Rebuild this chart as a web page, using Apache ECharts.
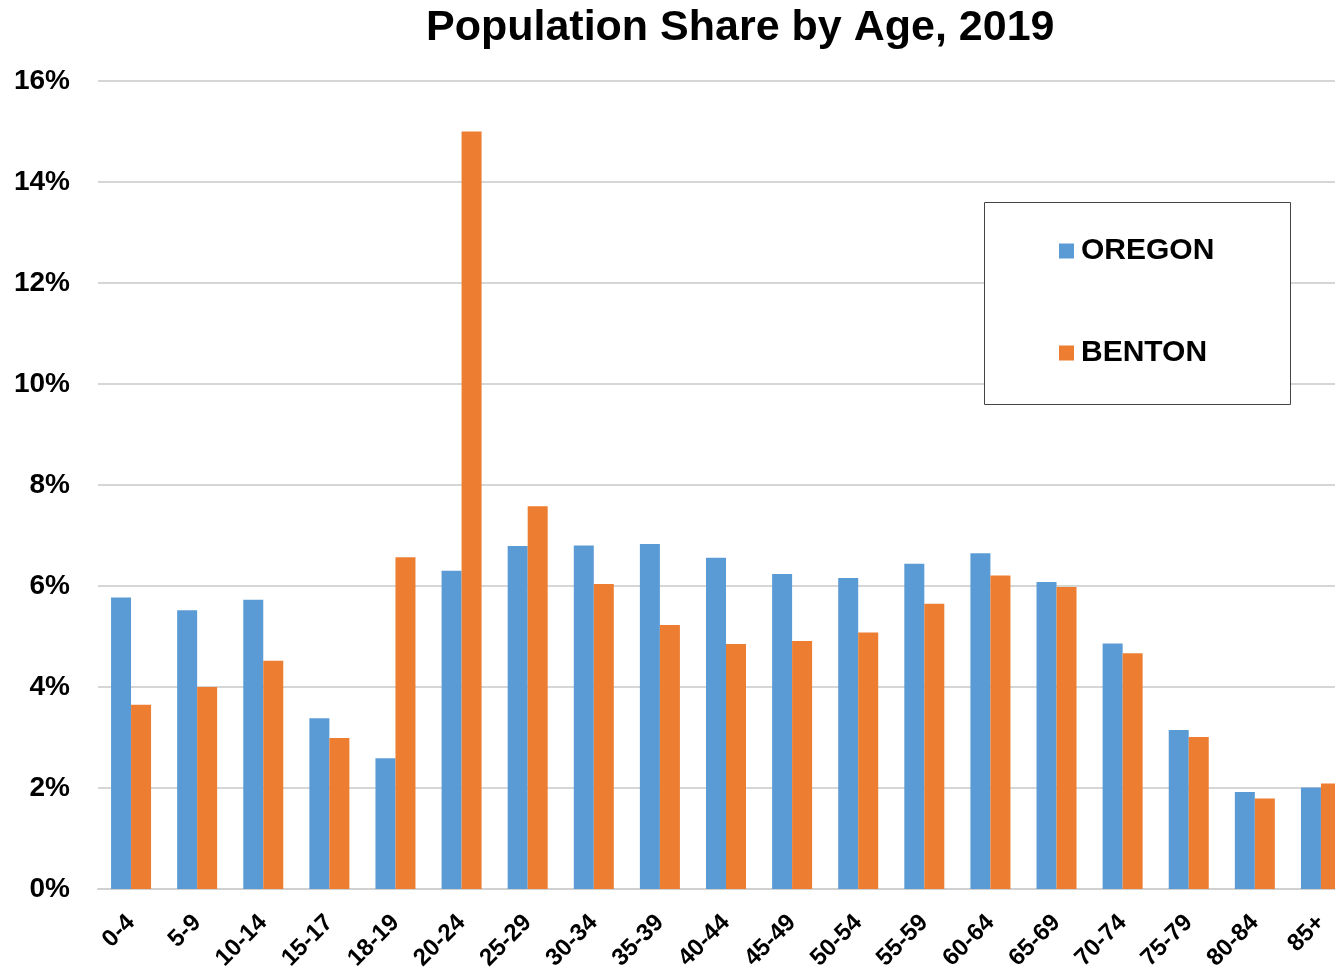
<!DOCTYPE html>
<html>
<head>
<meta charset="utf-8">
<script src="https://cdn.jsdelivr.net/npm/echarts@6/dist/echarts.min.js"></script>
<style>
  html, body { margin: 0; padding: 0; background: #fff; }
  #main { width: 1335px; height: 969px; }
</style>
</head>
<body>
<div id="main"></div>
<script type="text/javascript">
    // age groups and share (%) of population
    var ageGroups = ['0-4','5-9','10-14','15-17','18-19','20-24','25-29','30-34','35-39','40-44',
                     '45-49','50-54','55-59','60-64','65-69','70-74','75-79','80-84','85+'];
    var oregon = [5.77, 5.52, 5.73, 3.38, 2.59, 6.30, 6.79, 6.80, 6.83, 6.56,
                  6.24, 6.16, 6.44, 6.65, 6.08, 4.86, 3.15, 1.92, 2.01];
    var benton = [3.65, 4.00, 4.52, 2.99, 6.57, 15.00, 7.58, 6.04, 5.23, 4.85,
                  4.91, 5.08, 5.65, 6.21, 5.98, 4.67, 3.01, 1.79, 2.09];
    var seriesNames = ['OREGON', 'BENTON'];

    var font = 'Arial, "Liberation Sans", sans-serif';
    var myChart = echarts.init(document.getElementById('main'));

    var option = {
        backgroundColor: '#ffffff',
        animation: false,
        color: ['#5B9BD5', '#ED7D31'],
        title: {
            text: 'Population Share by Age, 2019',
            left: 421, top: 2,
            textStyle: { color: '#000', fontSize: 43, fontWeight: 'bold', fontFamily: font }
        },
        legend: {
            data: seriesNames,
            orient: 'vertical',
            left: 1054, top: 231,
            itemGap: 72,
            itemWidth: 15, itemHeight: 15,
            icon: 'rect',
            z: 10,
            textStyle: { color: '#000', fontSize: 30, fontWeight: 'bold', fontFamily: font, padding: [0, 0, 0, 2] }
        },
        graphic: [{
            type: 'rect',
            shape: { x: 984.5, y: 202.5, width: 306, height: 202 },
            style: { fill: '#fff', stroke: '#444', lineWidth: 1 },
            z: 5
        }],
        // plot runs slightly past the right edge, like the original picture
        grid: { left: 98, right: -19, top: 81, bottom: 80, containLabel: false, outerBoundsMode: 'none' },
        xAxis: {
            type: 'category',
            data: ageGroups,
            axisLine: { show: true, lineStyle: { color: '#d0d0d0', width: 2 } },
            axisTick: { show: false },
            axisLabel: {
                interval: 0, rotate: 45, margin: 30,
                color: '#000', fontSize: 24, fontWeight: 'bold', fontFamily: font
            }
        },
        yAxis: {
            type: 'value',
            min: 0, max: 16, interval: 2,
            axisLine: { show: false },
            axisTick: { show: false },
            splitLine: { lineStyle: { color: '#d6d6d6', width: 2 } },
            axisLabel: {
                formatter: '{value}%', margin: 28,
                color: '#000', fontSize: 28, fontWeight: 'bold', fontFamily: font
            }
        },
        series: [
            { name: seriesNames[0], type: 'bar', data: oregon, barWidth: 20, barGap: '0%', z: 3 },
            { name: seriesNames[1], type: 'bar', data: benton, barWidth: 20, barGap: '0%', z: 3 }
        ]
    };
    myChart.setOption(option);
</script>
</body>
</html>
